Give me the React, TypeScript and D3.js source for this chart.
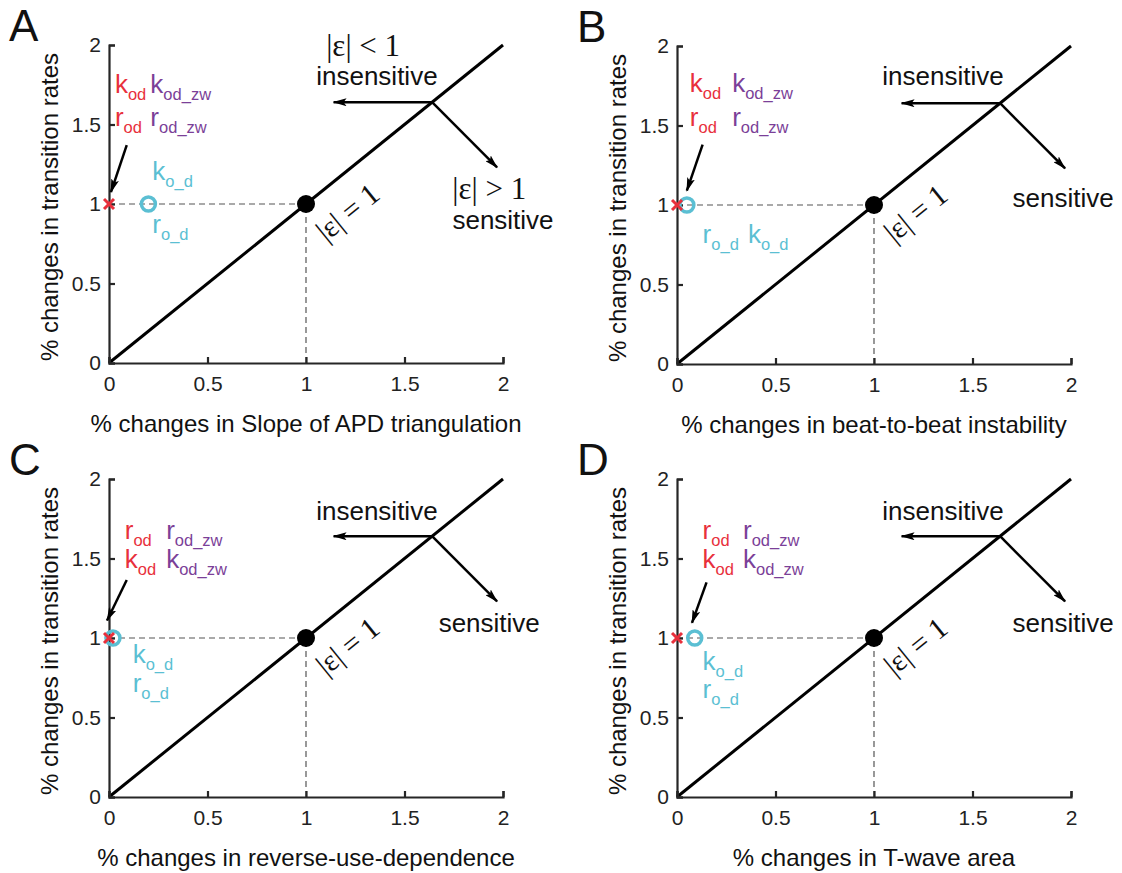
import React, { useEffect, useRef } from 'react'
import * as d3 from 'd3'

// axis ticks, shared by all four panels
const xTicks = [0, 0.5, 1, 1.5, 2]
const yTicks = [0, 0.5, 1, 1.5, 2]
const tickLabels = ['0', '0.5', '1', '1.5', '2']

const panelNames = ['A', 'B', 'C', 'D']
const xTitles = [
  '% changes in Slope of APD triangulation',
  '% changes in beat-to-beat instability',
  '% changes in reverse-use-dependence',
  '% changes in T-wave area'
]
const yTitle = '% changes in transition rates'

// markers (data coords)
const crossX = [0, 0, 0, 0]
const circleX = [0.2, 0.05, 0.02, 0.09]
const refPoint = [1, 1]
const branch = [1.64, 1.64]
const insensTip = [1.14, 1.64]
const sensTip = [1.97, 1.23]

// colored rate labels: [main, sub]
const redRows = [
  [['k', 'od'], ['r', 'od']],
  [['k', 'od'], ['r', 'od']],
  [['r', 'od'], ['k', 'od']],
  [['r', 'od'], ['k', 'od']]
]
const purpleRows = [
  [['k', 'od_zw'], ['r', 'od_zw']],
  [['k', 'od_zw'], ['r', 'od_zw']],
  [['r', 'od_zw'], ['k', 'od_zw']],
  [['r', 'od_zw'], ['k', 'od_zw']]
]
const labelX = [0.03, 0.065, 0.08, 0.13]
const purpleX = [0.21, 0.28, 0.29, 0.335]
const labelRowY = [[1.7, 1.49], [1.71, 1.5], [1.62, 1.44], [1.625, 1.44]]
const labelArrow = [
  [0.09, 1.37, 0.01, 1.075],
  [0.13, 1.38, 0.05, 1.09],
  [0.09, 1.365, -0.01, 1.11],
  [0.15, 1.35, 0.076, 1.095]
]
// cyan labels: [text, sub, x, y]
const cyanLabels = [
  [['k', 'o_d', 0.22, 1.15], ['r', 'o_d', 0.22, 0.82]],
  [['r', 'o_d', 0.13, 0.76], ['k', 'o_d', 0.36, 0.76]],
  [['k', 'o_d', 0.12, 0.84], ['r', 'o_d', 0.12, 0.66]],
  [['k', 'o_d', 0.13, 0.8], ['r', 'o_d', 0.13, 0.62]]
]
const insensPos = [[1.36, 1.75], [1.35, 1.755], [1.36, 1.74], [1.35, 1.74]]
const sensPos = [[2.0, 0.84], [1.96, 0.99], [1.93, 1.04], [1.96, 1.04]]
const epsLt = [[1.29, 1.93], null, null, null]
const epsGt = [[1.93, 1.03], null, null, null]
const epsEqPos = [1.21, 0.95]

const RED = '#e8303c'
const PURPLE = '#7b3f98'
const CYAN = '#5bbfd3'
const AXIS = '#262626'
const SANS = 'Liberation Sans, Arial, Helvetica, sans-serif'
const SERIF = 'Liberation Serif, Times New Roman, serif'

const W = 394
const H = 318
const origins = [[109, 45], [677, 46], [109, 479], [677, 479]]

function Sub({ x, y, main, sub, color }) {
  return (
    <text x={x} y={y} fill={color} fontFamily={SANS} fontSize={26}>
      {main}
      <tspan fontSize={16.5} dy={7}>{sub}</tspan>
    </text>
  )
}

function Panel({ i }) {
  const xAxisRef = useRef(null)
  const yAxisRef = useRef(null)
  const [left, top] = origins[i]
  const x = d3.scaleLinear().domain([0, 2]).range([0, W])
  const y = d3.scaleLinear().domain([0, 2]).range([H, 0])

  useEffect(() => {
    const xa = d3.axisBottom(x).tickValues(xTicks)
      .tickFormat((d, k) => tickLabels[k]).tickSize(-6).tickPadding(13)
    const ya = d3.axisLeft(y).tickValues(yTicks)
      .tickFormat((d, k) => tickLabels[k]).tickSize(-6).tickPadding(8)
    const gx = d3.select(xAxisRef.current).call(xa)
    const gy = d3.select(yAxisRef.current).call(ya)
    for (const g of [gx, gy]) {
      g.selectAll('path,line').attr('stroke', AXIS).attr('stroke-width', 2.2)
      g.selectAll('text').attr('fill', '#222').style('font-family', SANS).style('font-size', '21px')
    }
  }, [])

  const rows = labelRowY[i]
  const la = labelArrow[i]
  const mk = 'url(#arrowhead)'

  return (
    <g transform={`translate(${left},${top})`}>
      <text x={-100} y={-4} fontFamily={SANS} fontSize={44} fill="#111">{panelNames[i]}</text>
      {/* dashed guides */}
      <line x1={x(0)} y1={y(refPoint[1])} x2={x(refPoint[0])} y2={y(refPoint[1])}
        stroke="#555" strokeWidth={1.2} strokeDasharray="6,4" />
      <line x1={x(refPoint[0])} y1={y(0)} x2={x(refPoint[0])} y2={y(refPoint[1])}
        stroke="#555" strokeWidth={1.2} strokeDasharray="6,4" />
      {/* identity line */}
      <line x1={x(0)} y1={y(0)} x2={x(2)} y2={y(2)} stroke="#000" strokeWidth={3} />
      <g ref={xAxisRef} transform={`translate(0,${H})`} />
      <g ref={yAxisRef} />
      <circle cx={x(refPoint[0])} cy={y(refPoint[1])} r={9} fill="#000" />
      {/* arrows */}
      <line x1={x(branch[0])} y1={y(branch[1])} x2={x(insensTip[0])} y2={y(insensTip[1])}
        stroke="#000" strokeWidth={2.5} markerEnd={mk} />
      <line x1={x(branch[0])} y1={y(branch[1])} x2={x(sensTip[0])} y2={y(sensTip[1])}
        stroke="#000" strokeWidth={2.5} markerEnd={mk} />
      <line x1={x(la[0])} y1={y(la[1])} x2={x(la[2])} y2={y(la[3])}
        stroke="#000" strokeWidth={2.5} markerEnd={mk} />
      {/* texts */}
      <text x={x(insensPos[i][0])} y={y(insensPos[i][1])} textAnchor="middle"
        fontFamily={SANS} fontSize={26} fill="#111">insensitive</text>
      <text x={x(sensPos[i][0])} y={y(sensPos[i][1])} textAnchor="middle"
        fontFamily={SANS} fontSize={26} fill="#111">sensitive</text>
      {epsLt[i] && <text x={x(epsLt[i][0])} y={y(epsLt[i][1])} textAnchor="middle"
        fontFamily={SERIF} fontSize={31} fill="#111">|ε| &lt; 1</text>}
      {epsGt[i] && <text x={x(epsGt[i][0])} y={y(epsGt[i][1])} textAnchor="middle"
        fontFamily={SERIF} fontSize={31} fill="#111">|ε| &gt; 1</text>}
      <text transform={`translate(${x(epsEqPos[0])},${y(epsEqPos[1])}) rotate(-39)`}
        textAnchor="middle" dy="0.35em" fontFamily={SERIF} fontSize={30} fill="#111">|ε| = 1</text>
      {redRows[i].map((r, k) => (
        <Sub key={'r' + k} x={x(labelX[i])} y={y(rows[k])} main={r[0]} sub={r[1]} color={RED} />
      ))}
      {purpleRows[i].map((r, k) => (
        <Sub key={'p' + k} x={x(purpleX[i])} y={y(rows[k])} main={r[0]} sub={r[1]} color={PURPLE} />
      ))}
      {cyanLabels[i].map((c, k) => (
        <Sub key={'c' + k} x={x(c[2])} y={y(c[3])} main={c[0]} sub={c[1]} color={CYAN} />
      ))}
      {/* markers */}
      <circle cx={x(circleX[i])} cy={y(1)} r={7} fill="none" stroke={CYAN} strokeWidth={3.5} />
      <g transform={`translate(${x(crossX[i])},${y(1)})`} stroke={RED} strokeWidth={3}>
        <line x1={-5} y1={-5} x2={5} y2={5} />
        <line x1={-5} y1={5} x2={5} y2={-5} />
      </g>
      {/* axis titles */}
      <text x={W / 2} y={H + 69} textAnchor="middle" fontFamily={SANS} fontSize={24} fill="#111">{xTitles[i]}</text>
      <text transform={`translate(-51,${H / 2 + 3}) rotate(-90)`} textAnchor="middle"
        fontFamily={SANS} fontSize={24} fill="#111">{yTitle}</text>
    </g>
  )
}

export default function App() {
  return (
    <svg width={1122} height={873} style={{ position: 'absolute', left: 0, top: 0, background: '#fff' }}>
      <defs>
        <marker id="arrowhead" viewBox="0 0 14 8" refX={13} refY={4} markerWidth={14} markerHeight={8}
          markerUnits="userSpaceOnUse" orient="auto">
          <path d="M0,0 L14,4 L0,8 L3,4 Z" fill="#000" />
        </marker>
      </defs>
      {panelNames.map((p, i) => <Panel key={p} i={i} />)}
    </svg>
  )
}
